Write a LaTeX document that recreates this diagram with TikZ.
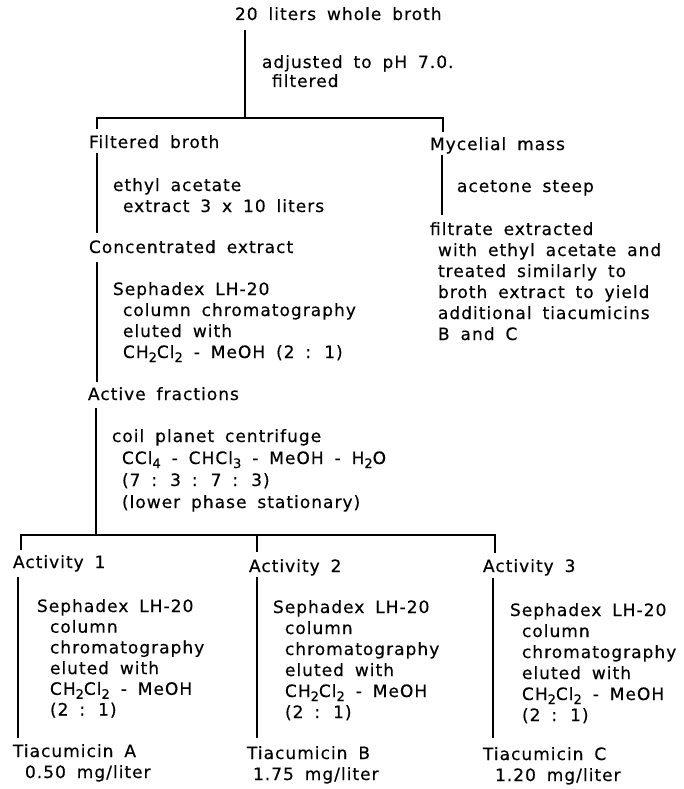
\documentclass[tikz,border=0pt]{standalone}
\usepackage{fontspec}
\setmainfont{DejaVu Sans}[LetterSpace=6,WordSpace=1.7,FakeBold=0.4]
\newcommand\blk[2][21pt]{\vtop{\baselineskip=#1\lineskiplimit=-30pt\lineskip=0pt\halign{##\hfil\cr#2\crcr}}}
\newcommand\chs[1]{\raisebox{-4pt}{\fontsize{13}{13}\selectfont#1}}
\newcommand\ind[1]{\hspace*{#1pt}}
\tikzset{
  txt/.style={anchor=base west, inner sep=0pt, outer sep=0pt, font=\fontsize{17}{21}\selectfont},
  conn/.style={line width=1.1pt, line cap=butt},
}
\begin{document}
\begin{tikzpicture}[x=1pt,y=-1pt]
\useasboundingbox[fill=white] (0,0) rectangle (683,789);
% texts
\node[txt] (top) at (235,20) {20 liters whole broth};
\node[txt] (adj) at (262,68) {\blk[19pt]{adjusted to pH 7.0.\cr\ind{10}filtered}};
\node[txt] (fb) at (89,148) {Filtered broth};
\node[txt] (ea) at (113,191) {\blk{ethyl acetate\cr\ind{10}extract 3 x 10 liters}};
\node[txt] (ce) at (89,253) {Concentrated extract};
\node[txt] (seph) at (113,295) {\blk{Sephadex LH-20\cr\ind{10}column chromatography\cr\ind{10}eluted with\cr\ind{10}CH\chs{2}Cl\chs{2} - MeOH (2 : 1)}};
\node[txt] (af) at (88,400) {Active fractions};
\node[txt] (cpc) at (112,442) {\blk[22pt]{coil planet centrifuge\cr\ind{10}CCl\chs{4} - CHCl\chs{3} - MeOH - H\chs{2}O\cr\ind{10}(7 : 3 : 7 : 3)\cr\ind{10}(lower phase stationary)}};
\node[txt] (mm) at (430,150) {Mycelial mass};
\node[txt] (as) at (457,192) {acetone steep};
\node[txt] (fe) at (430,235) {\blk{filtrate extracted\cr\ind{8}with ethyl acetate and\cr\ind{8}treated similarly to\cr\ind{8}broth extract to yield\cr\ind{8}additional tiacumicins\cr\ind{8}B and C}};
% activity columns
\node[txt] (a1) at (13,568) {Activity 1};
\node[txt] (s1) at (37,612) {\blk[20.7pt]{Sephadex LH-20\cr\ind{13}column\cr\ind{13}chromatography\cr\ind{13}eluted with\cr\ind{13}CH\chs{2}Cl\chs{2} - MeOH\cr\ind{13}(2 : 1)}};
\node[txt] (t1) at (13,757) {\blk{Tiacumicin A\cr\ind{12}0.50 mg/liter}};
\node[txt] (a2) at (249,572) {Activity 2};
\node[txt] (s2) at (273,613) {\blk{Sephadex LH-20\cr\ind{12}column\cr\ind{12}chromatography\cr\ind{12}eluted with\cr\ind{12}CH\chs{2}Cl\chs{2} - MeOH\cr\ind{12}(2 : 1)}};
\node[txt] (t2) at (247,759) {\blk{Tiacumicin B\cr\ind{6}1.75 mg/liter}};
\node[txt] (a3) at (483,572) {Activity 3};
\node[txt] (s3) at (510,616) {\blk{Sephadex LH-20\cr\ind{12}column\cr\ind{12}chromatography\cr\ind{12}eluted with\cr\ind{12}CH\chs{2}Cl\chs{2} - MeOH\cr\ind{12}(2 : 1)}};
\node[txt] (t3) at (483,760) {\blk{Tiacumicin C\cr\ind{12}1.20 mg/liter}};
% junction coordinates
\coordinate (p0) at (245,30);
\coordinate (j1) at (245,118);
\coordinate (jl) at (97,118);
\coordinate (jr) at (443,118);
\coordinate (fbt) at (97,129);
\coordinate (mmt) at (443,132);
\coordinate (fb1) at (97,153);
\coordinate (fb2) at (97,233);
\coordinate (ce1) at (97,262);
\coordinate (ce2) at (97,382);
\coordinate (af1) at (96,408);
\coordinate (j2) at (96,535);
\coordinate (bl) at (21,535);
\coordinate (bm) at (257,535);
\coordinate (br) at (495,535);
\coordinate (a1t) at (21,550);
\coordinate (a2t) at (257,552);
\coordinate (a3t) at (495,553);
\coordinate (m1) at (442,155);
\coordinate (m2) at (442,215);
\coordinate (c1a) at (18,577);
\coordinate (c1b) at (18,738);
\coordinate (c2a) at (257,577);
\coordinate (c2b) at (257,738);
\coordinate (c3a) at (493,578);
\coordinate (c3b) at (493,738);
% connectors
\draw[conn] (p0) -- (j1);
\draw[conn] (fbt) -- (jl) -- (jr) -- (mmt);
\draw[conn] (fb1) -- (fb2);
\draw[conn] (ce1) -- (ce2);
\draw[conn] (af1) -- (j2);
\draw[conn] (a1t) -- (bl) -- (br) -- (a3t);
\draw[conn] (bm) -- (a2t);
\draw[conn] (m1) -- (m2);
\draw[conn] (c1a) -- (c1b);
\draw[conn] (c2a) -- (c2b);
\draw[conn] (c3a) -- (c3b);
\end{tikzpicture}
\end{document}
